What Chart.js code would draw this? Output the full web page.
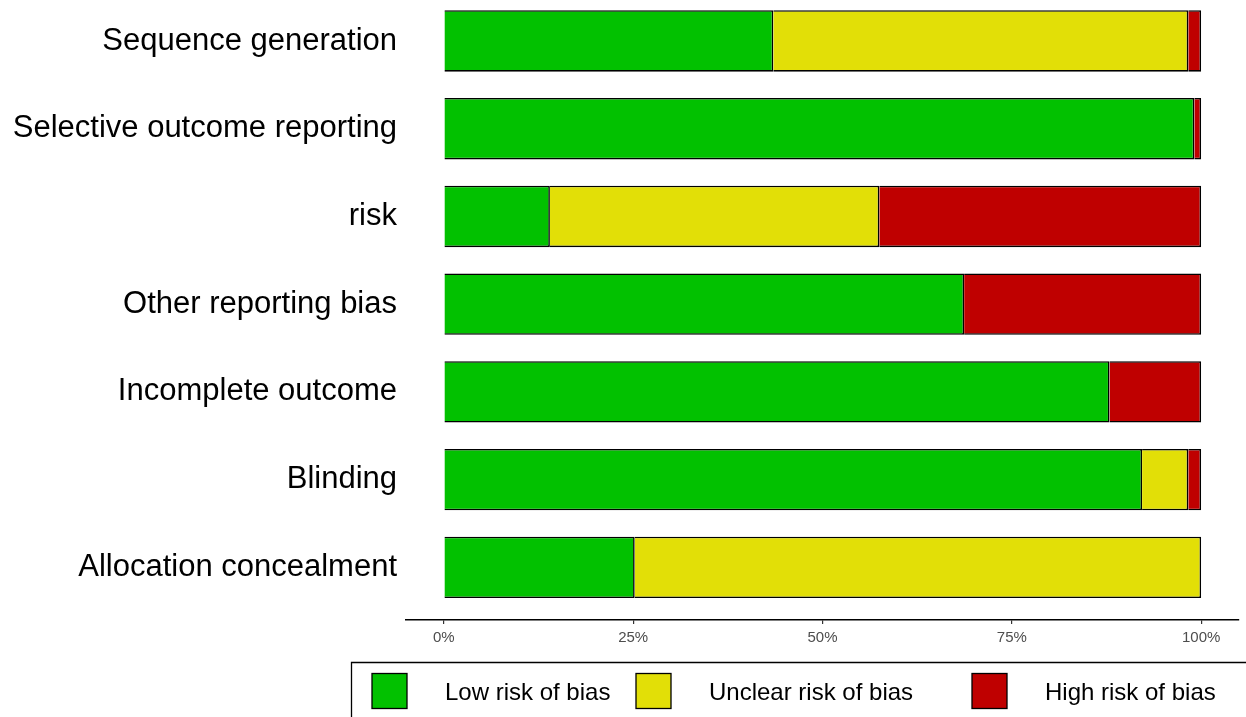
<!DOCTYPE html>
<html>
<head>
<meta charset="utf-8">
<script src="https://cdn.jsdelivr.net/npm/chart.js@4/dist/chart.umd.min.js"></script>
<style>
  html, body { margin: 0; padding: 0; background: #fff; }
  canvas { display: block; }
</style>
</head>
<body>
<canvas id="myChart" width="1246" height="717"></canvas>
<script>
// domains, top to bottom
const domains = [
  "Sequence generation",
  "Selective outcome reporting",
  "risk",
  "Other reporting bias",
  "Incomplete outcome",
  "Blinding",
  "Allocation concealment"
];
// percent of studies per judgement
const lowRisk = [43.5, 99.1, 14.0, 68.7, 87.9, 92.2, 25.2];
const unclearRisk = [54.8, 0, 43.5, 0, 0, 6.1, 74.8];
const highRisk = [1.7, 0.9, 42.5, 31.3, 12.1, 1.7, 0];
const tickValues = [0, 25, 50, 75, 100];
const legendLabels = ["Low risk of bias", "Unclear risk of bias", "High risk of bias"];
const colours = ["#02C100", "#E2DF07", "#BF0000"];

const FONT = '"Liberation Sans", Arial, sans-serif';

function toPoints(arr) {
  return arr.map(function (v, i) { return { x: v, y: i }; });
}

// legend box drawn under the plot, like the ggplot one
const bottomLegend = {
  id: "bottomLegend",
  afterDraw: function (chart) {
    const c = chart.ctx;
    c.save();
    c.strokeStyle = "#000";
    c.lineWidth = 1.3;
    c.beginPath();
    c.moveTo(351.5, 717);
    c.lineTo(351.5, 662.5);
    c.lineTo(1246, 662.5);
    c.stroke();

    const boxX = [372, 636, 972];
    c.font = "24px " + FONT;
    c.textBaseline = "alphabetic";
    c.textAlign = "left";
    for (let i = 0; i < legendLabels.length; i++) {
      c.fillStyle = colours[i];
      c.fillRect(boxX[i], 673.5, 35, 35);
      c.strokeRect(boxX[i], 673.5, 35, 35);
      c.fillStyle = "#000";
      c.fillText(legendLabels[i], boxX[i] + 73, 700);
    }
    c.restore();
  }
};

const ctx = document.getElementById("myChart").getContext("2d");
const myChart = new Chart(ctx, {
  type: "bar",
  data: {
    datasets: [
      { label: legendLabels[0], data: toPoints(lowRisk), backgroundColor: colours[0] },
      { label: legendLabels[1], data: toPoints(unclearRisk), backgroundColor: colours[1] },
      { label: legendLabels[2], data: toPoints(highRisk), backgroundColor: colours[2] }
    ]
  },
  options: {
    indexAxis: "y",
    responsive: false,
    animation: false,
    layout: { padding: { left: 0, right: 7, top: 0, bottom: 0 } },
    datasets: {
      bar: {
        borderColor: "#000",
        borderWidth: 1.6,
        barPercentage: 0.7,
        categoryPercentage: 1.0
      }
    },
    plugins: {
      legend: { display: false },
      tooltip: { enabled: false }
    },
    scales: {
      x: {
        type: "linear",
        stacked: true,
        min: -5,
        max: 105,
        afterBuildTicks: function (scale) {
          scale.ticks = tickValues.map(function (v) { return { value: v }; });
        },
        afterFit: function (scale) { scale.height = 97; },
        grid: { drawOnChartArea: false, drawTicks: true, tickLength: 4, color: "#333", lineWidth: 1.2 },
        border: { display: true, color: "#000", width: 1.4 },
        ticks: {
          color: "#4d4d4d",
          font: { family: FONT, size: 15 },
          padding: 5,
          maxRotation: 0,
          callback: function (v) { return v + "%"; }
        }
      },
      y: {
        type: "linear",
        stacked: true,
        reverse: true,
        offset: false,
        min: -0.467,
        max: 6.6,
        afterBuildTicks: function (scale) {
          scale.ticks = domains.map(function (d, i) { return { value: i }; });
        },
        afterFit: function (scale) {
          scale.width = 406;
          scale.paddingTop = 0;
          scale.paddingBottom = 0;
        },
        grid: { display: false, offset: false },
        border: { display: false },
        ticks: {
          color: "#000",
          font: { family: FONT, size: 31 },
          padding: 1,
          autoSkip: false,
          callback: function (v) { return domains[v]; }
        }
      }
    }
  },
  plugins: [bottomLegend]
});
</script>
</body>
</html>
